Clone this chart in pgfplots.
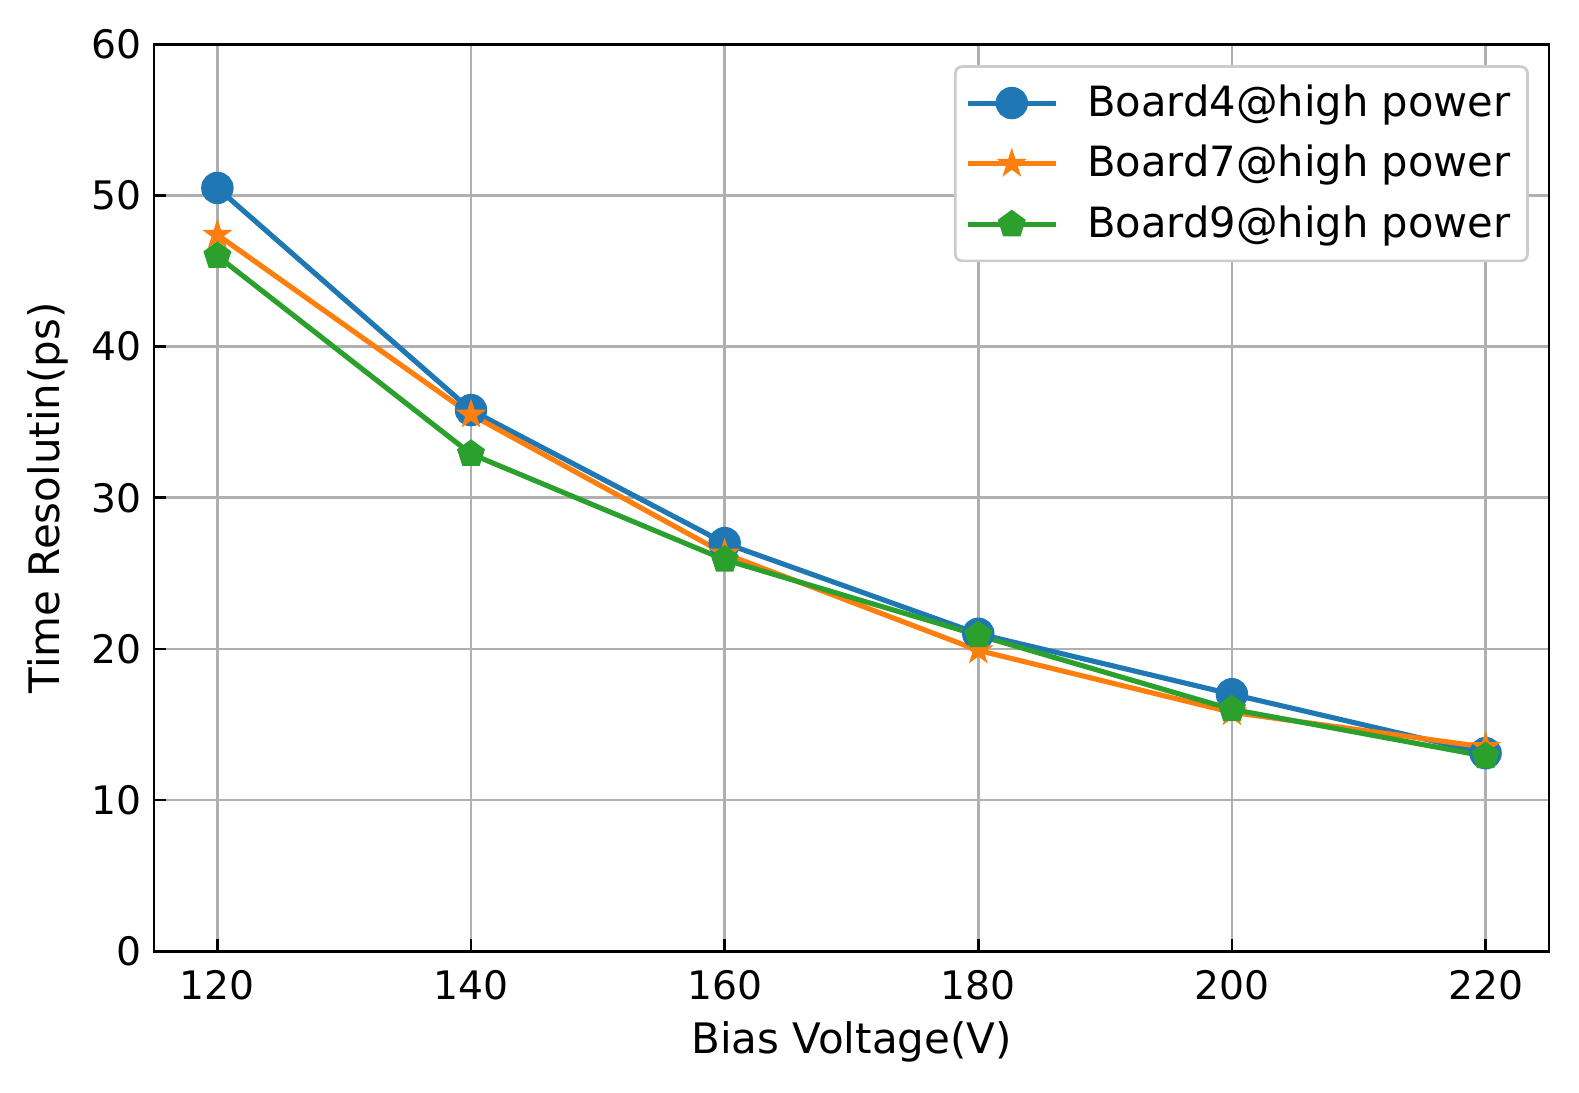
\documentclass[border=0pt]{standalone}
\usepackage{fontspec}
\setmainfont{DejaVu Sans}
\usepackage{pgfplots}
\pgfplotsset{compat=1.18}
\usetikzlibrary{calc}

\definecolor{c1}{HTML}{1F77B4}
\definecolor{c2}{HTML}{FF7F0E}
\definecolor{c3}{HTML}{2CA02C}
\definecolor{gridc}{HTML}{B0B0B0}

% filled five-pointed star like matplotlib's '*'
\pgfdeclareplotmark{fstar}{%
  \pgfpathmoveto{\pgfpointpolar{90}{\pgfplotmarksize}}%
  \foreach \a in {1,...,4}{%
    \pgfpathlineto{\pgfpointpolar{90+72*\a-36}{0.382\pgfplotmarksize}}%
    \pgfpathlineto{\pgfpointpolar{90+72*\a}{\pgfplotmarksize}}%
  }%
  \pgfpathlineto{\pgfpointpolar{54}{0.382\pgfplotmarksize}}%
  \pgfpathclose
  \pgfusepathqfillstroke
}

\begin{document}
\begin{tikzpicture}
\begin{axis}[
  scale only axis,
  width=408.6pt, height=265.6pt,
  xmin=115, xmax=225, ymin=0, ymax=60,
  xtick={120,140,...,220},
  ytick={0,10,...,60},
  xtick pos=bottom, ytick pos=left,
  tick align=inside,
  major tick length=3.5pt,
  tick style={black, line width=0.8pt},
  axis line style={line width=0.8pt},
  grid=major,
  major grid style={gridc, line width=0.8pt},
  /pgf/number format/assume math mode=true,
  ticklabel style={font=\fontsize{11.5}{13}\selectfont},
  xticklabel style={yshift=-2pt},
  xlabel={Bias Voltage(V)},
  ylabel={Time Resolutin(ps)},
  label style={font=\fontsize{12.3}{14}\selectfont},
  xlabel style={yshift=0.5pt},
  legend style={
    at={(0.9856,0.977)}, anchor=north east,
    draw=black!20, rounded corners=2pt, line width=0.8pt,
    font=\fontsize{12.2}{14.5}\selectfont,
    row sep=3pt, inner xsep=3pt, inner ysep=3.3pt,
  },
  legend cell align=left,
  legend image code/.code={%
    \draw[mark repeat=2, mark phase=2]
      plot coordinates {(0cm,0cm) (0.45cm,0cm) (0.9cm,0cm)};%
  },
  every axis plot/.append style={line width=1.5pt, mark options={solid}},
]
\addplot[c1, mark=*, mark size=4pt, mark options={fill=c1, draw=c1}]
  coordinates {(120,50.5) (140,35.8) (160,27.0) (180,21.0) (200,17.0) (220,13.1)};
\addlegendentry{\hspace{6.5pt}Board4@high power}
\addplot[c2, mark=fstar, mark size=3.9pt, mark options={fill=c2, draw=c2, line width=0.5pt}]
  coordinates {(120,47.4) (140,35.5) (160,26.3) (180,19.9) (200,15.8) (220,13.5)};
\addlegendentry{\hspace{6.5pt}Board7@high power}
\addplot[c3, mark=pentagon*, mark size=4pt, mark options={fill=c3, draw=c3, line width=0.5pt}]
  coordinates {(120,46.0) (140,32.9) (160,25.9) (180,20.9) (200,16.0) (220,12.9)};
\addlegendentry{\hspace{6.5pt}Board9@high power}
\end{axis}
\pgfresetboundingbox
\path[use as bounding box] ($(current axis.south west)+(-45.1pt,-41.3pt)$)
  rectangle ($(current axis.north east)+(8.8pt,13pt)$);
\end{tikzpicture}
\end{document}
